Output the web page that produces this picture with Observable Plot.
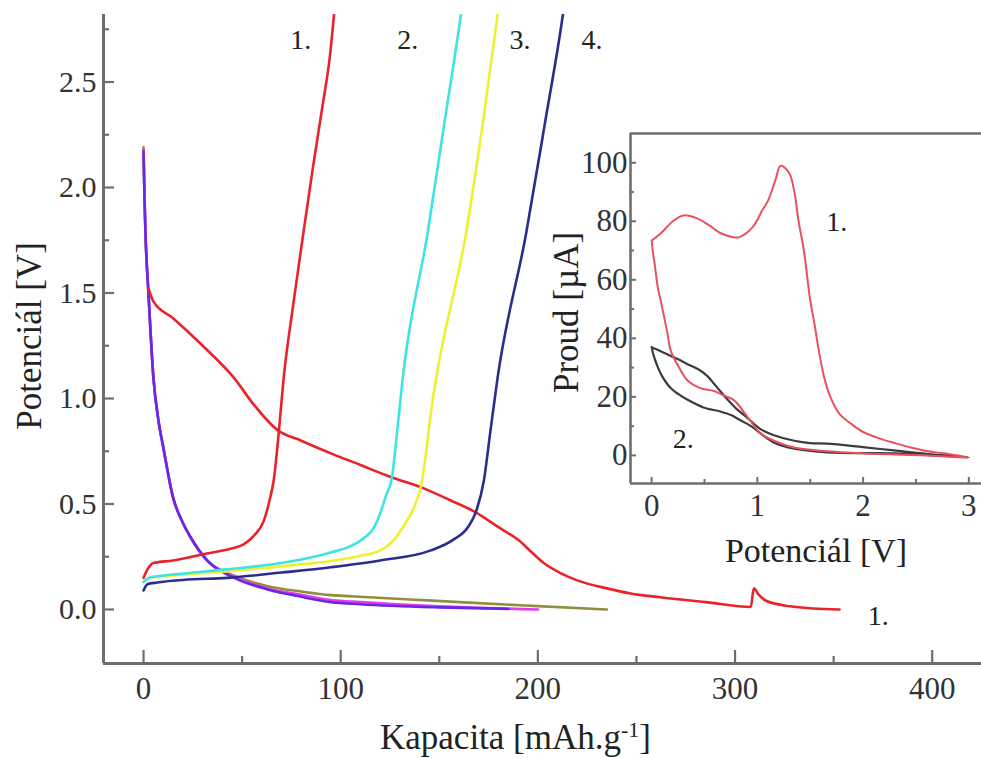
<!DOCTYPE html>
<html><head><meta charset="utf-8">
<script src="https://cdn.jsdelivr.net/npm/d3@7"></script>
<script src="https://cdn.jsdelivr.net/npm/@observablehq/plot@0.6"></script>
<style>
html,body{margin:0;padding:0;background:#fff;overflow:hidden;}
#wrap{position:relative;width:981px;height:758px;overflow:hidden;}
#main{position:absolute;left:0;top:0;}
#inset{position:absolute;left:540px;top:100px;}
svg{max-width:none !important;}
</style></head><body><div id="wrap"><div id="main"></div><div id="inset"></div></div>
<script>
// ---------- main chart data (Kapacita [mAh/g], Potenciál [V]) ----------
const redCharge = [[0,0.15],[2,0.19],[5,0.22],[15,0.232],[32,0.265],[45,0.29],[51,0.31],[56,0.35],[61,0.42],[64,0.52],[66,0.61],[68.7,0.85],[71,1.09],[76,1.45],[81,1.78],[86,2.1],[91,2.4],[94.5,2.62],[97,2.86]];
const redDischarge = [[2.5,1.52],[5,1.46],[15,1.38],[30,1.25],[45.7,1.10],[56,0.97],[68,0.85],[80,0.80],[95,0.74],[110,0.685],[126,0.626],[140.6,0.58],[155,0.52],[168.5,0.46],[180,0.39],[190,0.33],[197,0.27],[203,0.22],[212,0.17],[220,0.138],[235,0.10],[247,0.076],[262,0.058],[285,0.035],[308,0.012],[309.5,0.1],[312,0.07],[316,0.04],[328,0.015],[340,0.005],[353,0.0]];
const cyanCharge = [[0,0.13],[3,0.15],[20,0.17],[42,0.19],[70,0.22],[95,0.27],[105,0.30],[112,0.34],[117,0.39],[120,0.455],[123,0.54],[126,0.626],[128.7,0.85],[131.5,1.10],[144,1.78],[152.5,2.3],[161,2.82],[161.6,2.86]];
const yellowCharge = [[0,0.13],[3,0.15],[20,0.165],[42,0.18],[70,0.205],[95,0.23],[110,0.255],[120,0.28],[127,0.33],[131.5,0.39],[137,0.48],[140.6,0.58],[143,0.72],[145.7,0.93],[148.5,1.10],[163.5,1.78],[172,2.3],[179.6,2.82],[180.2,2.86]];
const navyCharge = [[0,0.09],[2,0.12],[7,0.128],[20,0.14],[42.6,0.15],[70,0.175],[95,0.2],[120,0.232],[145.7,0.28],[157,0.33],[164.5,0.39],[168.5,0.46],[172.6,0.61],[176,0.85],[179.6,1.10],[194,1.78],[203.5,2.3],[212.7,2.82],[213.3,2.86]];
const oliveDischarge = [[0,2.19],[0.5,1.95],[1,1.78],[2.5,1.5],[5,1.1],[7.5,0.9],[10,0.77],[15,0.53],[20,0.41],[24,0.34],[32.5,0.23],[46,0.16],[63,0.11],[80,0.085],[95,0.068],[105,0.063],[140,0.045],[170,0.03],[200,0.016],[235,0.0]];
const magentaDischarge = [[0,2.18],[0.5,1.95],[1,1.78],[2.5,1.5],[5,1.1],[7.5,0.9],[10,0.77],[15,0.53],[20,0.41],[24,0.34],[32.5,0.23],[46,0.155],[63,0.1],[80,0.07],[95,0.045],[110,0.035],[150,0.015],[200,0.0]];
const purpleDischarge = [[0,2.17],[0.5,1.95],[1,1.78],[2.5,1.5],[5,1.1],[7.5,0.9],[10,0.77],[15,0.53],[20,0.41],[24,0.34],[32.5,0.23],[46,0.15],[63,0.095],[80,0.06],[95,0.035],[110,0.025],[150,0.01],[185,0.003]];
const labelsMain = [{x:79.7,y:2.70,t:"1."},{x:134,y:2.70,t:"2."},{x:190.9,y:2.70,t:"3."},{x:227.4,y:2.70,t:"4."},{x:372.6,y:-0.033,t:"1."}];
const xMajor = [0,100,200,300,400];
const xMinor = [50,150,250,350];
const yMajor = [0,0.5,1.0,1.5,2.0,2.5];
const yMinor = [0.25,0.75,1.25,1.75,2.25,2.75];

// ---------- inset data (Potenciál [V], Proud [µA]) ----------
const cvRed = [[0,73.4],[0.085,75.8],[0.2,80],[0.3,82],[0.43,81],[0.55,78.5],[0.65,76],[0.82,74.5],[0.955,78],[1.05,84],[1.1,87],[1.17,94],[1.22,99],[1.3,96.6],[1.35,90],[1.39,80],[1.44,70],[1.5,53],[1.54,45],[1.58,36],[1.63,27],[1.69,20],[1.78,14],[1.88,11],[2.0,8],[2.14,6],[2.3,4.2],[2.45,2.7],[2.6,1.5],[2.76,0.7],[3.0,-0.7],
  [2.6,0],[1.98,0.7],[1.35,2.7],[1.16,5],[1.03,7.5],[0.91,13],[0.78,18.8],[0.68,20.5],[0.59,22],[0.46,23],[0.34,25.6],[0.26,30],[0.18,35.8],[0.15,41.6],[0.085,53],[0.06,57],[0.03,65],[0.01,70],[0,73.4]];
const cvBlack = [[0,37],[0.12,35],[0.24,33],[0.35,31],[0.46,29],[0.53,27],[0.59,24.5],[0.66,21.5],[0.72,19],[0.8,16],[0.9,13],[1.03,9],[1.15,7],[1.35,5],[1.5,4.2],[1.66,4],[2.0,2.8],[2.29,1.7],[2.6,0.5],[3.0,-0.7],
  [2.6,0.2],[2.29,0.7],[1.66,1],[1.29,2.7],[1.15,4.5],[1.03,7.5],[0.94,10],[0.84,12],[0.75,13.8],[0.65,15],[0.49,16.4],[0.34,19],[0.25,21],[0.18,23],[0.1,27],[0.06,30],[0.02,34],[0,37]];
const labelsInset = [{x:1.75,y:79.9,t:"1."},{x:0.30,y:5.5,t:"2."}];
const ixMajor = [0,1,2,3];
const ixMinor = [0.5,1.5,2.5];
const iyMajor = [0,20,40,60,80,100];
const iyMinor = [10,30,50,70,90];

const FONT = "'Liberation Serif','Times New Roman',serif";
const AX = "#6e6e6e";
const TXT = "#222";

const xDom = [-20.3, 425], yDom = [-0.256, 2.82];
const ln = (data, stroke, w=2.6) => Plot.line(data, {x: d => d[0], y: d => d[1], stroke, strokeWidth: w, curve: "monotone-x", clip: true});

const main = Plot.plot({
  width: 981, height: 758,
  marginLeft: 103, marginTop: 14, marginRight: 0, marginBottom: 95,
  x: {domain: xDom},
  y: {domain: yDom},
  style: {fontFamily: FONT, background: "white", color: TXT, overflow: "visible"},
  marks: [
    ln(oliveDischarge, "#8f8f3c"),
    ln(magentaDischarge, "#e23ee8"),
    ln(purpleDischarge, "#6a28e6"),
    ln(redDischarge, "#e8232a"),
    ln(navyCharge, "#2c2c8e"),
    ln(yellowCharge, "#f0f032"),
    ln(cyanCharge, "#3fe3e3"),
    ln(redCharge, "#e8232a"),
    Plot.ruleX([xDom[0]], {stroke: AX, strokeWidth: 3}),
    Plot.ruleY([yDom[0]], {stroke: AX, strokeWidth: 3}),
    Plot.axisY({ticks: yMajor, tickSize: -11, text: null, stroke: AX, strokeWidth: 2.2, label: null}),
    Plot.axisY({ticks: yMinor, tickSize: -6, text: null, stroke: AX, strokeWidth: 2.2, label: null}),
    Plot.axisY({ticks: yMajor, tickSize: 0, tickPadding: 7, tickFormat: d => d.toFixed(1), fontSize: 30, fill: "#333", label: null}),
    Plot.axisX({ticks: xMajor, tickSize: -13, text: null, stroke: AX, strokeWidth: 2.2, label: null}),
    Plot.axisX({ticks: xMinor, tickSize: -7, text: null, stroke: AX, strokeWidth: 2.2, label: null}),
    Plot.axisX({ticks: xMajor, tickSize: 0, tickPadding: 13, fontSize: 31, fill: "#333", label: null}),
    Plot.text(["Kapacita [mAh.g-1]"], {frameAnchor: "bottom", textAnchor: "middle", lineAnchor: "middle", dx: -27, dy: 74, fontSize: 35, fill: TXT}),
    Plot.text(["Potenciál [V]"], {frameAnchor: "left", textAnchor: "middle", lineAnchor: "middle", rotate: -90, dx: -74, dy: -3, fontSize: 35, fill: TXT}),
    Plot.text(labelsMain, {x: "x", y: "y", text: "t", fontSize: 28, fill: TXT})
  ]
});
document.getElementById("main").appendChild(main);

// superscript -1 in x-axis title
d3.select(main).selectAll("text").filter(function(){ return this.textContent === "Kapacita [mAh.g-1]"; })
  .each(function(){
    const t = d3.select(this);
    t.text(null);
    t.append("tspan").text("Kapacita [mAh.g");
    t.append("tspan").attr("dy", -12).attr("font-size", "22px").text("-1");
    t.append("tspan").attr("dy", 12).text("]");
  });

const ixDom = [-0.2, 3.12], iyDom = [-9.6, 110];
const lnI = (data, stroke, w=2) => Plot.line(data, {x: d => d[0], y: d => d[1], stroke, strokeWidth: w, curve: "catmull-rom", clip: true});
const inset = Plot.plot({
  width: 441, height: 470,
  marginLeft: 90, marginTop: 33, marginRight: 0, marginBottom: 87,
  x: {domain: ixDom},
  y: {domain: iyDom},
  style: {fontFamily: FONT, background: "transparent", color: TXT, overflow: "visible"},
  marks: [
    lnI(cvBlack, "#3c3c3c", 2.2),
    lnI(cvRed, "#e8525c", 2),
    Plot.ruleX([ixDom[0]], {stroke: AX, strokeWidth: 2.6}),
    Plot.ruleY([iyDom[0]], {stroke: AX, strokeWidth: 2.6}),
    Plot.ruleY([iyDom[1]], {stroke: AX, strokeWidth: 2.6}),
    Plot.axisY({ticks: iyMajor, tickSize: -6, text: null, stroke: AX, strokeWidth: 2, label: null}),
    Plot.axisY({ticks: iyMinor, tickSize: -4, text: null, stroke: AX, strokeWidth: 2, label: null}),
    Plot.axisY({ticks: iyMajor, tickSize: 0, tickPadding: 3, tickFormat: d3.format("d"), fontSize: 31, fill: "#333", label: null}),
    Plot.axisX({ticks: ixMajor, tickSize: -6, text: null, stroke: AX, strokeWidth: 2, label: null}),
    Plot.axisX({ticks: ixMinor, tickSize: -4, text: null, stroke: AX, strokeWidth: 2, label: null}),
    Plot.axisX({ticks: ixMajor, tickSize: 0, tickPadding: 10, tickFormat: d3.format("d"), fontSize: 31, fill: "#333", label: null}),
    Plot.text(["Potenciál [V]"], {frameAnchor: "bottom", textAnchor: "middle", lineAnchor: "middle", dx: 10, dy: 68, fontSize: 34, fill: TXT}),
    Plot.text(["Proud [µA]"], {frameAnchor: "left", textAnchor: "middle", lineAnchor: "middle", rotate: -90, dx: -64, dy: 4, fontSize: 35, fill: TXT}),
    Plot.text(labelsInset, {x: "x", y: "y", text: "t", fontSize: 28, fill: TXT})
  ]
});
document.getElementById("inset").appendChild(inset);
</script>
</body></html>
